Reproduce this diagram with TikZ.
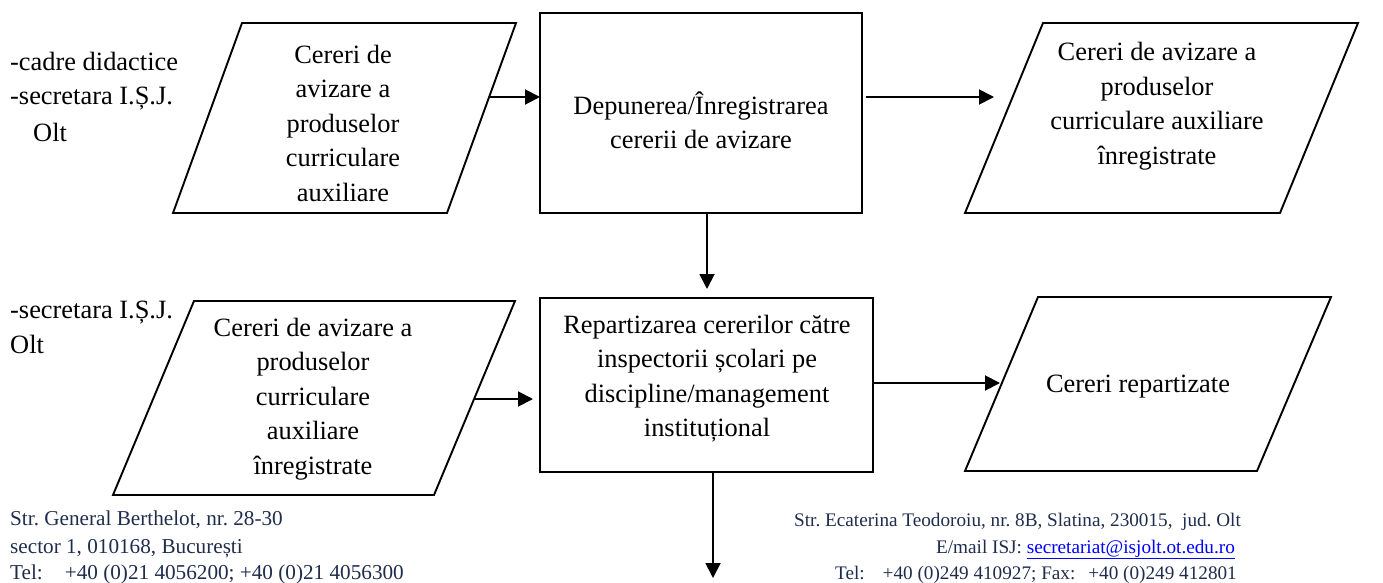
\documentclass[tikz,border=0pt]{standalone}
\usepackage{fontspec}
\setmainfont{Liberation Serif}
\usetikzlibrary{arrows.meta}
\definecolor{foot}{HTML}{1F2D4D}
\definecolor{linkblue}{HTML}{0000FF}
\begin{document}
\frenchspacing
\begin{tikzpicture}[x=1pt,y=-1pt,
  shapeline/.style={draw=black,line width=1.9pt,line join=miter},
  boxnode/.style={draw=black,line width=1.9pt,inner sep=0pt,outer sep=0pt},
  txt/.style={align=center,font=\fontsize{26.4}{34.5}\selectfont,inner sep=0pt},
  lbl/.style={font=\fontsize{26.4}{34.5}\selectfont,inner sep=0pt,anchor=base west},
  footl/.style={font=\fontsize{21.2}{28}\selectfont,text=foot,inner sep=0pt,anchor=base west},
  footr/.style={font=\fontsize{19.2}{28}\selectfont,text=foot,inner sep=0pt,anchor=base east},
  flow/.style={line width=1.9pt,-{Triangle[length=15pt,width=15pt]}},
  ]
\useasboundingbox (0,0) rectangle (1383,583);

% shapes
\draw[shapeline] (242,23) -- (516,23) -- (447,213) -- (173,213) -- cycle;
\node[boxnode,minimum width=322pt,minimum height=200pt] (box1) at (701,113) {};
\draw[shapeline] (1043,23) -- (1358,23) -- (1280,213) -- (965,213) -- cycle;
\draw[shapeline] (194,301) -- (515,301) -- (434,495) -- (113,495) -- cycle;
\node[boxnode,minimum width=333pt,minimum height=174pt] (box2) at (706.5,385) {};
\draw[shapeline] (1038,297) -- (1331,297) -- (1257,471) -- (965,471) -- cycle;

% texts in shapes
\node[txt] (tp1) at (343,123) {Cereri de\\avizare a\\produselor\\curriculare\\auxiliare};
\node[txt] (tb1) at (701,120.5) {Depunerea/Înregistrarea\\cererii de avizare};
\node[txt] (tp3) at (1157,106) {Cereri de avizare a\\produselor\\curriculare auxiliare\\înregistrate};
\node[txt] (tb2) at (707,378.5) {Repartizarea cererilor către\\inspectorii școlari pe\\discipline/management\\instituțional};
\node[txt] (tp2) at (313,399) {Cereri de avizare a\\produselor\\curriculare\\auxiliare\\înregistrate};
\node[txt] (tp4) at (1138,387) {Cereri repartizate};

% side labels
\node[lbl] (l1) at (10,71) {-cadre didactice};
\node[lbl] (l2) at (10,105) {-secretara I.Ș.J.};
\node[lbl] (l3) at (33,141) {Olt};
\node[lbl] (l4) at (10,318) {-secretara I.Ș.J.};
\node[lbl] (l5) at (10,353) {Olt};

% connector end points on the parallelogram edges
\coordinate (p1out) at (489,97);
\coordinate (b1out) at (866,97);
\coordinate (p3in) at (994,97);
\coordinate (b1down) at (707,213);
\coordinate (b2top) at (707,289);
\coordinate (p2out) at (475,399);
\coordinate (b2in) at (533,399);
\coordinate (b2out) at (873,383);
\coordinate (p4in) at (1000,383);
\coordinate (b2down) at (713,472);
\coordinate (endarrow) at (713,578);

% connectors
\draw[flow] (p1out) -- (p1out -| box1.west);
\draw[flow] (b1out) -- (p3in);
\draw[flow] (b1down) -- (b2top);
\draw[flow] (p2out) -- (b2in);
\draw[flow] (b2out) -- (p4in);
\draw[flow] (b2down) -- (endarrow);

% footer
\node[footl] (f1) at (10,525) {Str. General Berthelot, nr. 28-30};
\node[footl] (f2) at (10,553) {sector 1, 010168, București};
\node[footl] (f3) at (10,579) {Tel:\hspace{22pt}+40 (0)21 4056200; +40 (0)21 4056300};
\node[footr] (f4) at (1241,526) {Str. Ecaterina Teodoroiu, nr. 8B, Slatina, 230015,\ \ jud. Olt};
\node[footr] (f5) at (1235,553) {E/mail ISJ: \textcolor{linkblue}{\underline{secretariat@isjolt.ot.edu.ro}}};
\node[footr] (f6) at (1237,579) {Tel:\hspace{18pt}+40 (0)249 410927; Fax:\hspace{13pt}+40 (0)249 412801};
\end{tikzpicture}
\end{document}
